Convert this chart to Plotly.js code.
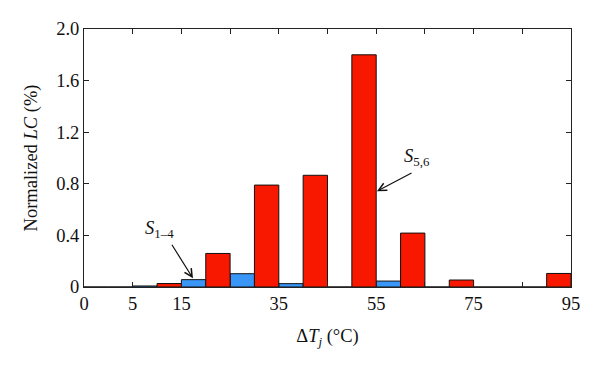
<!DOCTYPE html>
<html>
<head>
<meta charset="utf-8">
<script src="https://cdn.plot.ly/plotly-3.0.1.min.js"></script>
<style>html,body{margin:0;padding:0;background:#fff}#chart{width:600px;height:369px}</style>
</head>
<body>
<div id="chart"></div>
<script>
// Bin index (0..9), each bin spans two x ticks
const binCenters = [0.5, 1.5, 2.5, 3.5, 4.5, 5.5, 6.5, 7.5, 8.5, 9.5];
const tickPositions = [0, 1, 2, 3, 4, 5, 6, 7, 8, 9, 10];
const tickLabels = ['0', '5', '15', '', '35', '', '55', '', '75', '', '95'];
const s14Values = [0, 0.008, 0.057, 0.103, 0.026, 0, 0.046, 0, 0, 0];
const s56Values = [0, 0.027, 0.26, 0.79, 0.866, 1.80, 0.418, 0.054, 0, 0.105];
const yTicks = [0, 0.4, 0.8, 1.2, 1.6, 2.0];
const yTickLabels = ['0', '0.4', '0.8', '1.2', '1.6', '2.0'];

const font = {family: '"Liberation Serif", serif', size: 18.5, color: '#111'};

const traces = [
  {type: 'bar', name: 'S1-4', x: binCenters, y: s14Values,
   marker: {color: '#3a96f6', line: {color: '#111', width: 1}}},
  {type: 'bar', name: 'S5,6', x: binCenters, y: s56Values,
   marker: {color: '#f81800', line: {color: '#111', width: 1}}}
];

const layout = {
  width: 600, height: 369,
  margin: {l: 84, r: 29, t: 29, b: 82, pad: 0},
  paper_bgcolor: '#fff', plot_bgcolor: '#fff',
  showlegend: false,
  barmode: 'group', bargap: 0, bargroupgap: 0,
  font: font,
  xaxis: {
    range: [0, 10], tickmode: 'array', tickvals: tickPositions, ticktext: tickLabels,
    ticks: 'inside', ticklen: 5, tickcolor: '#222', tickwidth: 1,
    showline: true, linecolor: '#222', linewidth: 1, mirror: 'ticks',
    showgrid: false, zeroline: false, fixedrange: true,
    tickfont: font,
    title: {text: 'Δ<i>T</i><sub><i>j</i></sub> (°C)', font: font, standoff: 15}
  },
  yaxis: {
    range: [0, 2.0], tickmode: 'array', tickvals: yTicks, ticktext: yTickLabels,
    ticks: 'inside', ticklen: 5, tickcolor: '#222', tickwidth: 1,
    showline: true, linecolor: '#222', linewidth: 1, mirror: 'ticks',
    showgrid: false, zeroline: false, fixedrange: true,
    tickfont: font,
    title: {text: 'Normalized <i>LC</i> (%)', font: font, standoff: 13}
  },
  annotations: [
    {x: 1.56, y: 0.445, xref: 'x', yref: 'y', text: '<i>S</i><sub>1–4</sub>', showarrow: false, font: font},
    {x: 2.238, y: 0.067, ax: 1.786, ay: 0.339, xref: 'x', yref: 'y', axref: 'x', ayref: 'y',
     text: '', showarrow: true, arrowhead: 5, arrowsize: 1.3, arrowwidth: 1.2, arrowcolor: '#111', standoff: 0, startstandoff: 0},
    {x: 6.84, y: 1.005, xref: 'x', yref: 'y', text: '<i>S</i><sub>5,6</sub>', showarrow: false, font: font},
    {x: 6.016, y: 0.742, ax: 6.756, ay: 0.89, xref: 'x', yref: 'y', axref: 'x', ayref: 'y',
     text: '', showarrow: true, arrowhead: 5, arrowsize: 1.3, arrowwidth: 1.2, arrowcolor: '#111', standoff: 0, startstandoff: 0}
  ]
};

Plotly.newPlot('chart', traces, layout, {displayModeBar: false, staticPlot: true});
</script>
</body>
</html>
